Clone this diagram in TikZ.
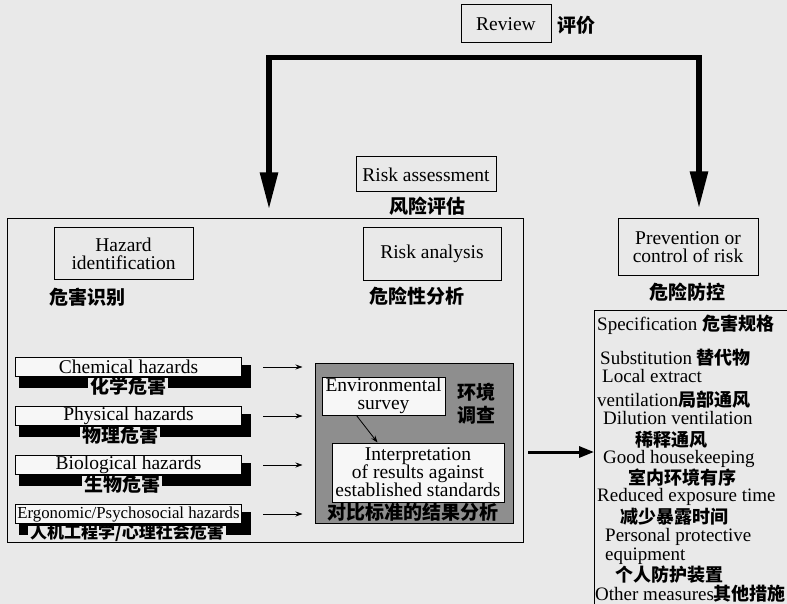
\documentclass[tikz,border=0pt]{standalone}
\usepackage{fontspec}
\setmainfont{Liberation Serif}
\newfontfamily\cjkf{Noto Sans CJK SC}
\usetikzlibrary{arrows.meta,calc}
\definecolor{bg}{HTML}{E9E9E9}
\definecolor{paper}{HTML}{F7F7F7}
\definecolor{shade}{HTML}{8E8E8E}
\newcommand\enf{\fontsize{19.5}{18}\selectfont}
\newcommand\lsf{\fontsize{19}{18}\selectfont}
\newcommand\zhf{\fontsize{19}{23}\selectfont\cjkf\bfseries}
\newcommand\zlf{\fontsize{18}{20}\selectfont\cjkf\bfseries}
\begin{document}
\begin{tikzpicture}[x=1pt,y=-1pt,
  box/.style={draw, line width=1pt, inner sep=0pt, align=center, font=\enf},
  frame/.style={draw, line width=1pt, inner sep=0pt},
  zh/.style={inner sep=0pt, align=center, font=\zhf},
  zl/.style={inner sep=0pt, anchor=west, font=\zlf},
  en/.style={inner sep=0pt, anchor=west, font=\lsf},
  bigarr/.style={line width=5.5pt, line join=miter, -{Triangle[length=37pt,width=17pt]}},
  smallarr/.style={line width=0.8pt, -{Stealth[length=7pt,width=5pt]}},
  midarr/.style={line width=3pt, -{Triangle[length=15pt,width=11pt]}}]
\fill[bg] (0,0) rectangle (787,604);
\useasboundingbox (0,0) rectangle (787,604);
\clip (0,0) rectangle (787,604);

% top
\node[box, minimum width=90pt, minimum height=38pt] (review) at (506,24) {Review};
\node[zh] (reviewzh) at (576,25) {评价};

\node[box, minimum width=140pt, minimum height=35pt] (rass) at (426,174.5) {Risk assessment};
\node[zh] (rasszh) at (427,206) {风险评估};

% big assessment frame
\node[frame, minimum width=516pt, minimum height=323pt] (assess) at (265,380.5) {};
\node[box, minimum width=139pt, minimum height=51pt] (hazid) at (123.5,253.5) {Hazard\\identification};
\node[zh, anchor=west] (hazidzh) at (49,297) {危害识别};
\node[box, minimum width=138pt, minimum height=52pt] (rana) at (432,254) {Risk analysis};
\node[zh] (ranazh) at (417,296) {危险性分析};

% prevention
\node[box, minimum width=140pt, minimum height=56pt] (prev) at (688,247) {Prevention or\\control of risk};
\node[zh] (prevzh) at (687,292) {危险防控};

% loop arrows
\coordinate (tl) at (269,57.5);
\coordinate (tr) at (699,57.5);
\draw[bigarr, shorten >=9pt] (tr) -- (tl) -- (tl |- assess.north);
\draw[bigarr, shorten >=10pt] (tl) -- (tr) -- (tr |- prev.north);

% gray analysis box
\node[frame, fill=shade, minimum width=198pt, minimum height=160pt] (ana) at (414,443) {};
\node[box, fill=paper, minimum width=123pt, minimum height=38pt] (env) at (383.5,396) {Environmental\\survey};
\node[zh] (envzh) at (476,403.5) {环境\\调查};
\node[box, fill=paper, minimum width=172pt, minimum height=59pt] (interp) at (418,472.5) {Interpretation\\of results against\\established standards};
\node[zh] (interpzh) at (413,512) {对比标准的结果分析};
\draw[smallarr] ([xshift=35pt]env.south west) -- ([xshift=46pt]interp.north west);

% hazard bars
\foreach \i/\y/\eng/\chn/\zx in {
  1/357/{Chemical hazards}/{化学危害}/128,
  2/406/{Physical hazards}/{物理危害}/120,
  3/455/{Biological hazards}/{生物危害}/122,
  4/504/{\fontsize{16.8}{18}\selectfont Ergonomic/Psychosocial hazards}/{\fontsize{17}{20}\selectfont 人机工程学/心理社会危害}/127}{
  \fill[black] (19,\y+8) rectangle (251,\y+31);
  \node[box, fill=paper, minimum width=226pt, minimum height=19pt, anchor=north west] (hz\i) at (15,\y) {\eng};
  \node[zh, fill=bg, inner xsep=2pt, inner ysep=-1.5pt] (hzzh\i) at (\zx,\y+29) {\chn};
  \draw[smallarr] ([xshift=21pt]hz\i.east) -- ([xshift=-12pt]hz\i.east -| ana.west);
}

% control list
\node[frame, minimum width=200pt, minimum height=300pt, anchor=north west] (ctrl) at (594,310) {};
\coordinate (m) at (528,452);
\draw[midarr] (m) -- (m -| ctrl.west);

\node[en] (l1) at (597,325) {Specification {\zlf 危害规格}};
\node[en] (l2) at (600,358) {Substitution {\zlf 替代物}};
\node[en] (l3) at (602,376) {Local extract};
\node[en] (l4) at (597,400) {ventilation{\zlf 局部通风}};
\node[en] (l5) at (603,418) {Dilution ventilation};
\node[zl] (l6) at (635,440) {稀释通风};
\node[en] (l7) at (603,459) {Good housekeeping};
\node[zl] (l8) at (628,478) {室内环境有序};
\node[en] (l9) at (597,497) {Reduced exposure time};
\node[zl] (l10) at (620,517) {减少暴露时间};
\node[en] (l11) at (605,537) {Personal protective};
\node[en] (l12) at (605,556) {equipment};
\node[zl] (l13) at (615,575) {个人防护装置};
\node[en] (l14) at (595,594) {Other measures{\zlf 其他措施}};
\end{tikzpicture}
\end{document}
